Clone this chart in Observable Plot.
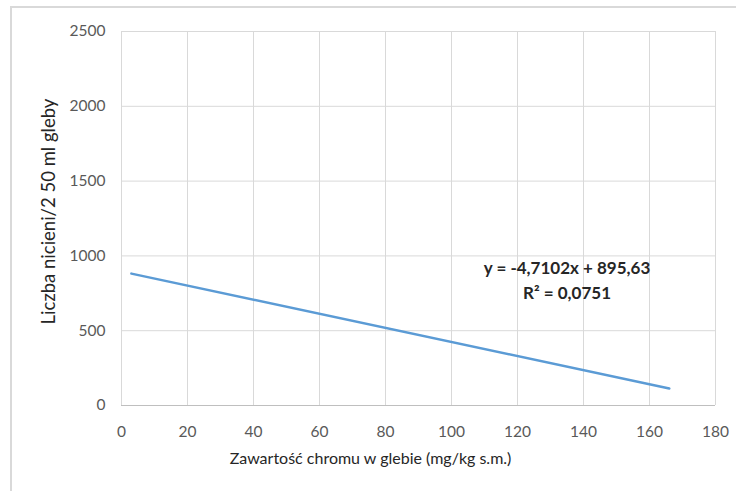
<!DOCTYPE html>
<html>
<head>
<meta charset="utf-8">
<script src="https://cdn.jsdelivr.net/npm/d3@7"></script>
<script src="https://cdn.jsdelivr.net/npm/@observablehq/plot@0.6"></script>
<style>
  html, body { margin: 0; padding: 0; background: #fff; overflow: hidden; }
  #wrap { position: relative; width: 736px; height: 491px; }
  #frame { position: absolute; left: 10px; top: 6px; width: 740px; height: 500px; border: 2px solid #d9d9d9; box-sizing: border-box; }
  #chart { position: absolute; left: 0; top: 0; }
</style>
</head>
<body>
<div id="wrap"><div id="frame"></div><div id="chart"></div></div>
<script>
// Trendline endpoints (x in mg/kg s.m., y from y = -4.7102x + 895.63)
const lineX = [3, 166];
const lineY = [881.5, 113.7];
const xTicks = [0, 20, 40, 60, 80, 100, 120, 140, 160, 180];
const yTicks = [0, 500, 1000, 1500, 2000, 2500];
const xTitle = "Zawartość chromu w glebie (mg/kg s.m.)";
const yTitle = "Liczba nicieni/2 50 ml gleby";
const eqText = ["y = -4,7102x + 895,63\nR² = 0,0751"];
const eqPos = {x: 135, y: 850};

const line = lineX.map((x, i) => ({x, y: lineY[i]}));

const font = "Lato, 'Open Sans', sans-serif";
const fmt = d => String(d);
const chart = Plot.plot({
  width: 736,
  height: 491,
  marginLeft: 121,
  marginRight: 21,
  marginTop: 31,
  marginBottom: 86,
  style: {fontFamily: font, background: "transparent", overflow: "visible"},
  x: {domain: [0, 180], ticks: xTicks},
  y: {domain: [0, 2500], ticks: yTicks},
  marks: [
    Plot.gridX(xTicks, {stroke: "#d9d9d9", strokeOpacity: 1, strokeWidth: 1}),
    Plot.gridY(yTicks, {stroke: "#d9d9d9", strokeOpacity: 1, strokeWidth: 1}),
    Plot.ruleY([0], {stroke: "#bfbfbf", strokeWidth: 1}),
    Plot.axisX(xTicks, {tickSize: 0, tickPadding: 20, fontSize: 15.5, color: "#595959", label: null, tickFormat: fmt}),
    Plot.axisY(yTicks, {tickSize: 0, tickPadding: 16, fontSize: 15.5, color: "#595959", label: null, tickFormat: fmt}),
    Plot.text([xTitle], {frameAnchor: "bottom", dy: 58, dx: -48, fontSize: 16, fill: "#262626"}),
    Plot.text([yTitle], {frameAnchor: "left", textAnchor: "middle", dx: -72, dy: -7, rotate: -90, fontSize: 18.5, fill: "#262626", letterSpacing: "0.4px"}),
    Plot.line(line, {x: "x", y: "y", stroke: "#5b9bd5", strokeWidth: 2.5}),
    Plot.text(eqText, {x: () => eqPos.x, y: () => eqPos.y, fontSize: 17, fontWeight: "bold", fill: "#262626", lineHeight: 1.45, textAnchor: "middle", letterSpacing: "0.4px"})
  ]
});
document.getElementById("chart").appendChild(chart);
</script>
</body>
</html>
